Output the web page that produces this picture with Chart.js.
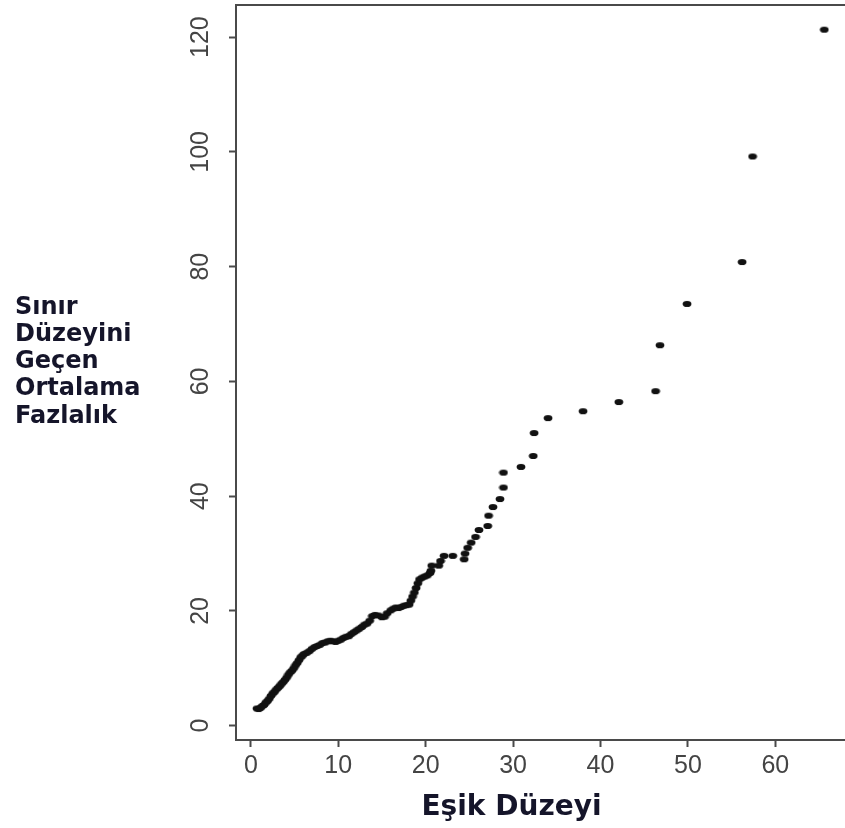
<!DOCTYPE html>
<html>
<head>
<meta charset="utf-8">
<script src="https://cdn.jsdelivr.net/npm/chart.js@4.4.1/dist/chart.umd.min.js"></script>
<style>
  html, body { margin: 0; padding: 0; background: #fff; overflow: hidden; }
  #wrap { width: 845px; height: 828px; overflow: hidden; }
</style>
</head>
<body>
<div id="wrap">
  <canvas id="me-chart" width="852" height="828"></canvas>
</div>
<script>
// mean excess plot: threshold vs mean excess over threshold
const thresholds = [
  0.7, 0.9, 1.1, 1.3, 1.5, 1.7, 1.9, 2.1, 2.3, 2.5, 2.7, 2.9, 3.1, 3.3, 3.5, 3.7, 3.9,
  4.1, 4.3, 4.5, 4.7, 4.9, 5.1, 5.3, 5.5, 5.7, 5.9, 6.1, 6.4, 6.7, 7.0, 7.3, 7.6, 7.9,
  8.2, 8.5, 8.8, 9.1, 9.4, 9.7, 10.0, 10.3, 10.6, 10.9, 11.2, 11.5, 11.8, 12.1, 12.4,
  12.7, 13.0, 13.3, 13.6, 13.9, 14.2, 14.6, 15.0, 15.3, 15.6, 16.0, 16.3, 16.6, 16.9,
  17.2, 17.5, 17.8, 18.1, 18.3, 18.5, 18.7, 18.9, 19.1, 19.3, 19.6, 19.9, 20.2, 20.5,
  20.6, 20.7, 21.5, 21.7, 22.1, 23.1, 24.4, 24.5, 24.8, 25.2, 25.7, 26.1, 27.1, 27.2,
  27.7, 28.5, 28.9, 28.9, 30.9, 32.3, 32.4, 34.0, 38.0, 42.1, 46.3, 46.8, 49.9, 56.2,
  57.4, 65.6
];
const meanExcess = [
  3.0, 2.9, 3.1, 3.4, 3.6, 4.0, 4.3, 4.7, 5.2, 5.6, 5.9, 6.3, 6.6, 6.9, 7.3, 7.6, 8.0,
  8.4, 8.9, 9.3, 9.6, 10.0, 10.5, 10.9, 11.4, 11.9, 12.2, 12.5, 12.7, 13.0, 13.4, 13.7, 13.9, 14.1,
  14.4, 14.5, 14.7, 14.8, 14.7, 14.6, 14.8, 15.0, 15.3, 15.5, 15.6, 16.0, 16.3, 16.6, 16.9,
  17.2, 17.6, 17.8, 18.3, 19.1, 19.3, 19.2, 18.9, 19.0, 19.6, 20.1, 20.4, 20.6, 20.5,
  20.7, 20.9, 21.0, 21.1, 21.8, 22.5, 23.2, 24.0, 24.8, 25.5, 25.8, 26.0, 26.2, 26.6,
  27.0, 27.9, 27.9, 28.7, 29.6, 29.6, 29.0, 30.0, 31.0, 31.9, 32.9, 34.1, 34.8, 36.6,
  38.1, 39.5, 41.5, 44.1, 45.1, 47.0, 51.0, 53.6, 54.8, 56.4, 58.3, 66.3, 73.5, 80.8,
  99.2, 121.3
];
const xTicks = [0, 10, 20, 30, 40, 50, 60];
const yTicks = [0, 20, 40, 60, 80, 100, 120];
const yTitleLines = ['Sınır', 'Düzeyini', 'Geçen', 'Ortalama', 'Fazlalık'];
const xTitle = 'Eşik Düzeyi';

const points = thresholds.map((t, i) => ({ x: t, y: meanExcess[i] }));

// small flat dot, the points in the picture are a bit wider than tall
function makeDot() {
  const c = document.createElement('canvas');
  c.width = 10;
  c.height = 8;
  const g = c.getContext('2d');
  g.fillStyle = '#111';
  g.beginPath();
  g.ellipse(5, 4, 4.4, 3.1, 0, 0, Math.PI * 2);
  g.fill();
  return c;
}

const axisColor = '#4a4a4a';
const tickFont = { family: '"Liberation Sans", Arial, sans-serif', size: 25 };

const frameAndTitles = {
  id: 'frameAndTitles',
  afterDraw(chart) {
    const ctx = chart.ctx;
    const area = chart.chartArea;
    ctx.save();
    // top edge of the box
    ctx.strokeStyle = axisColor;
    ctx.lineWidth = 2;
    ctx.beginPath();
    ctx.moveTo(area.left - 1, area.top);
    ctx.lineTo(area.right, area.top);
    ctx.stroke();

    ctx.fillStyle = '#15152a';
    ctx.textBaseline = 'alphabetic';
    ctx.textAlign = 'left';
    ctx.font = 'bold 24px "DejaVu Sans", Verdana, sans-serif';
    yTitleLines.forEach((line, i) => {
      ctx.fillText(line, 15, 313.5 + i * 27.3);
    });

    ctx.textAlign = 'center';
    ctx.font = 'bold 28px "DejaVu Sans", Verdana, sans-serif';
    ctx.fillText(xTitle, 511.5, 815);
    ctx.restore();
  }
};

const ctx = document.getElementById('me-chart').getContext('2d');
new Chart(ctx, {
  type: 'scatter',
  data: {
    datasets: [{
      data: points,
      pointStyle: makeDot(),
      pointRadius: 4,
      pointHoverRadius: 4,
      showLine: false
    }]
  },
  options: {
    responsive: false,
    animation: false,
    events: [],
    layout: { padding: { top: 1, right: 4, left: 0, bottom: 0 } },
    plugins: {
      legend: { display: false },
      tooltip: { enabled: false }
    },
    scales: {
      x: {
        type: 'linear',
        min: -1.7,
        max: 68.2,
        afterBuildTicks: (scale) => { scale.ticks = xTicks.map(v => ({ value: v })); },
        afterFit: (scale) => {
          scale.height = 88;
          scale.paddingLeft = 0;
          scale.paddingRight = 0;
        },
        grid: { drawOnChartArea: false, drawTicks: true, tickLength: 7, tickWidth: 2, tickColor: axisColor },
        border: { display: true, color: axisColor, width: 2 },
        ticks: { color: '#444', font: tickFont, padding: 4, maxRotation: 0, autoSkip: false }
      },
      y: {
        type: 'linear',
        min: -2.5,
        max: 125.6,
        afterBuildTicks: (scale) => { scale.ticks = yTicks.map(v => ({ value: v })); },
        afterFit: (scale) => {
          scale.width = 236;
          scale.paddingTop = 0;
          scale.paddingBottom = 0;
        },
        grid: { drawOnChartArea: false, drawTicks: true, tickLength: 7, tickWidth: 2, tickColor: axisColor },
        border: { display: true, color: axisColor, width: 2 },
        ticks: {
          color: '#444',
          font: tickFont,
          padding: 7,
          minRotation: 90,
          maxRotation: 90,
          crossAlign: 'center',
          autoSkip: false
        }
      }
    }
  },
  plugins: [frameAndTitles]
});
</script>
</body>
</html>
